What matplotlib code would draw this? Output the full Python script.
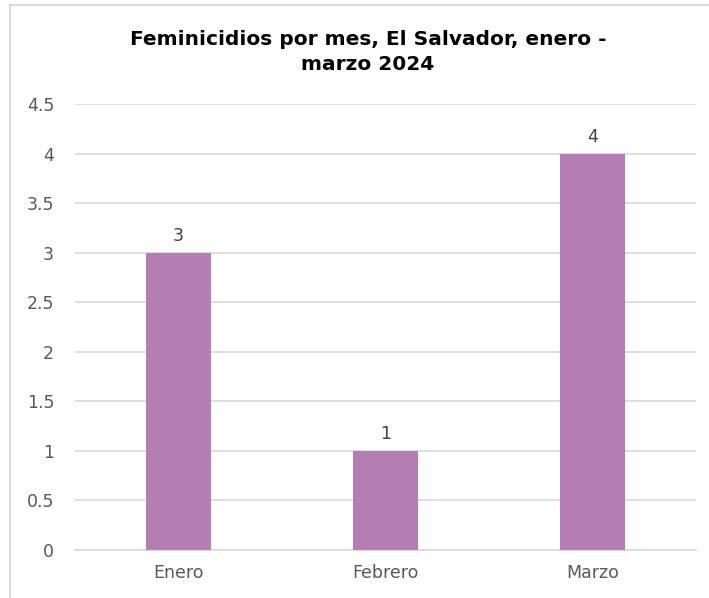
import matplotlib
matplotlib.use("Agg")
import matplotlib.pyplot as plt
from matplotlib.lines import Line2D

categories = ["Enero", "Febrero", "Marzo"]
values = [3, 1, 4]
yticks = [0, 0.5, 1, 1.5, 2, 2.5, 3, 3.5, 4, 4.5]
ytick_labels = ["0", "0.5", "1", "1.5", "2", "2.5", "3", "3.5", "4", "4.5"]
title = "Feminicidios por mes, El Salvador, enero -\nmarzo 2024"

plt.rcParams['font.family'] = ['DejaVu Sans']

W, H = 709, 598
fig = plt.figure(figsize=(W/100, H/100), dpi=100)
ax = fig.add_axes([75/W, (H-550)/H, (696-75)/W, (550-104)/H])

x = list(range(len(categories)))
bars = ax.bar(x, values, width=0.31, color="#B47EB3", zorder=3)
for xi, v in zip(x, values):
    ax.text(xi, v + 0.08, str(v), ha="center", va="bottom", fontsize=12.5, color="#404040")

ax.set_xlim(-0.5, len(categories) - 0.5)
ax.set_ylim(0, 4.5)
ax.set_yticks(yticks)
ax.set_yticklabels(ytick_labels)
ax.set_xticks(x)
ax.set_xticklabels(categories)
ax.tick_params(axis="both", length=0, labelsize=12.5, labelcolor="#595959")
ax.tick_params(axis="y", pad=15)
ax.tick_params(axis="x", pad=10)
ax.grid(axis="y", color="#D9D9D9", linewidth=1.2, zorder=0)
for s in ["top", "right", "left"]:
    ax.spines[s].set_visible(False)
ax.spines["bottom"].set_color("#D9D9D9")
ax.spines["bottom"].set_linewidth(1.2)

fig.text(368/W, 1 - 52/H, title, ha="center", va="center", fontsize=14.5,
         fontweight="bold", color="#000000", linespacing=1.45)

# outer chart border (top and left visible)
fig.add_artist(Line2D([10/W, 10/W], [0, 1 - 5/H], transform=fig.transFigure, color="#D9D9D9", linewidth=1.5))
fig.add_artist(Line2D([10/W, 1], [1 - 5/H, 1 - 5/H], transform=fig.transFigure, color="#D9D9D9", linewidth=1.5))

fig.savefig("out.png", dpi=100, facecolor="white")
